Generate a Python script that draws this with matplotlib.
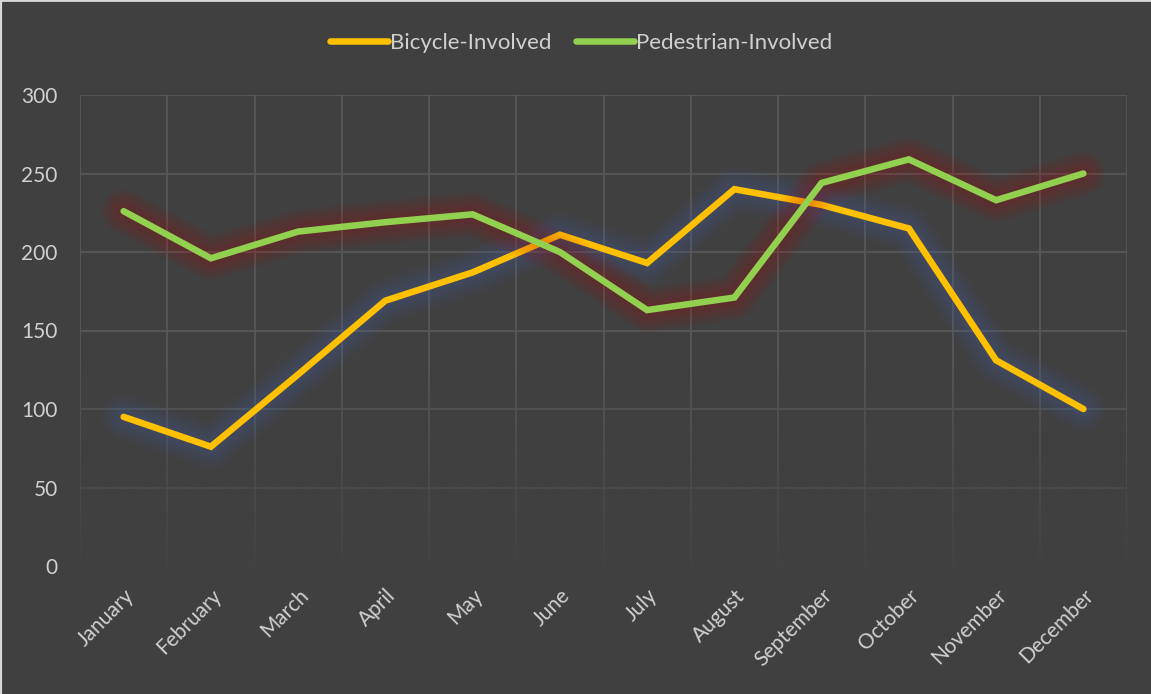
import matplotlib
matplotlib.use("Agg")
import matplotlib.pyplot as plt
import numpy as np
from matplotlib.lines import Line2D

# Monthly counts
months = ["January", "February", "March", "April", "May", "June",
          "July", "August", "September", "October", "November", "December"]
bicycle = [95, 76, 122, 169, 187, 211, 193, 240, 230, 215, 131, 100]
pedestrian = [226, 196, 213, 219, 224, 200, 163, 171, 244, 259, 233, 250]

bg = "#404040"
txt = "#D0D0D0"
grid_c = "#585858"
yellow = "#FFC000"
green = "#92D050"
plt.rcParams["font.family"] = ["Lato", "DejaVu Sans"]

fig = plt.figure(figsize=(11.51, 6.94), dpi=100, facecolor=bg)
ax = fig.add_axes([80 / 1151, 1 - 566 / 694, 1047 / 1151, 471 / 694])
ax.set_facecolor(bg)

x = np.arange(len(months))
ax.set_xlim(-0.5, len(months) - 0.5)
ax.set_ylim(0, 300)

# grid: horizontal at major y ticks, vertical between categories
ax.set_yticks(np.arange(0, 301, 50))
ax.set_xticks(x)
ax.set_xticks(np.arange(-0.5, len(months), 1), minor=True)
ax.grid(axis="y", which="major", color=grid_c, lw=1.3)
ax.grid(axis="x", which="minor", color=grid_c, lw=1.3)
ax.set_axisbelow(True)
for s in ax.spines.values():
    s.set_visible(False)
ax.tick_params(which="both", length=0)
ax.tick_params(axis="y", colors=txt, labelsize=15, pad=16)
ax.set_xticklabels(months, rotation=45, ha="right", rotation_mode="anchor",
                   color=txt, fontsize=15)
ax.tick_params(axis="x", pad=14)

# grid fades out toward the bottom of the plot
ramp = np.clip((130 - np.linspace(300, 0, 200)) / 130, 0, 1) * 0.9
fade = np.zeros((200, 2, 4))
fade[..., :3] = matplotlib.colors.to_rgb(bg)
fade[..., 3] = ramp[:, None]
ax.imshow(fade, extent=(-0.5, len(months) - 0.5, 0, 300), aspect="auto",
          zorder=1, interpolation="bilinear")


def glow_line(vals, color, glow, z):
    for w in [10, 15, 20, 25, 30, 35, 40, 45]:
        ax.plot(x, vals, color=glow, lw=w * 0.72, alpha=0.035,
                solid_capstyle="round", solid_joinstyle="round", zorder=z)
    ax.plot(x, vals, color=color, lw=4.7, solid_capstyle="round",
            solid_joinstyle="miter", zorder=z + 0.5)


glow_line(bicycle, yellow, "#4472C4", 3)
glow_line(pedestrian, green, "#C00000", 5)

handles = [Line2D([], [], color=yellow, lw=4.7, solid_capstyle="round"),
           Line2D([], [], color=green, lw=4.7, solid_capstyle="round")]
fig.legend(handles, ["Bicycle-Involved", "Pedestrian-Involved"],
           loc="center", bbox_to_anchor=(0.505, 1 - 43 / 694), ncol=2,
           frameon=False, fontsize=16, labelcolor=txt, handlelength=2.6,
           handletextpad=0.1, columnspacing=1.1)

# light edge along the top and left
fig.add_artist(Line2D([0, 0], [0, 1], transform=fig.transFigure,
                      color="#D9D9D9", lw=3))
fig.add_artist(Line2D([0, 1], [1, 1], transform=fig.transFigure,
                      color="#D9D9D9", lw=2))

fig.savefig("out.png", dpi=100, facecolor=bg)
